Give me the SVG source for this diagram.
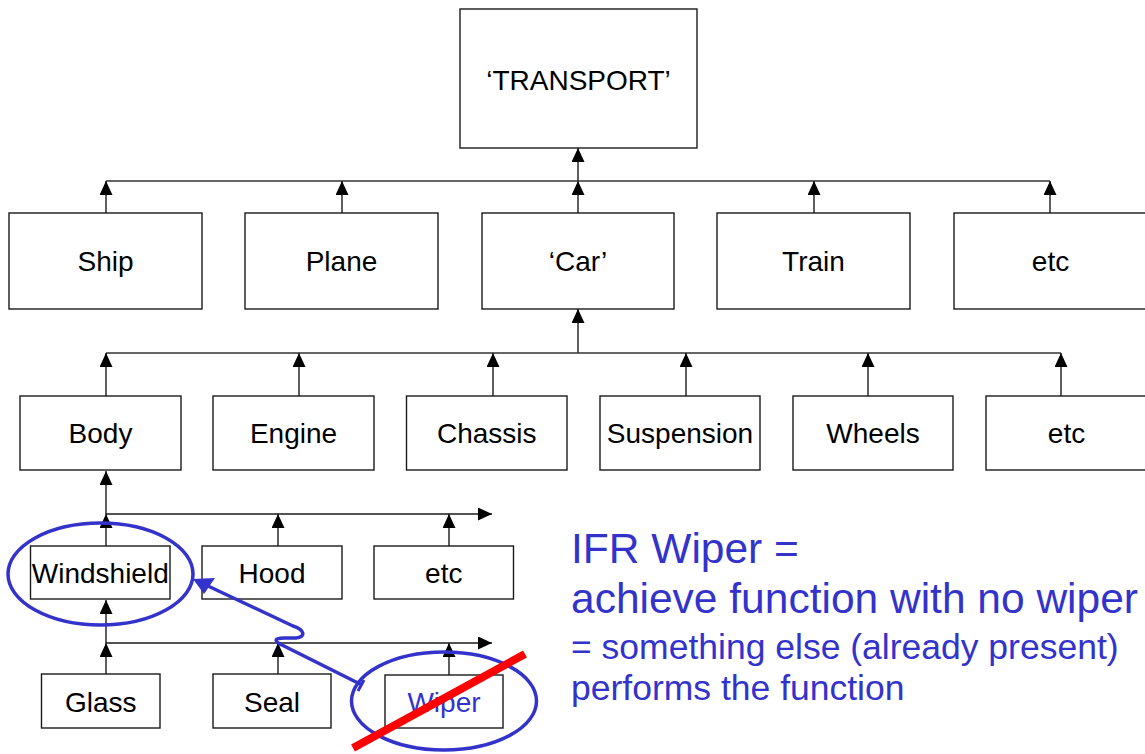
<svg xmlns="http://www.w3.org/2000/svg" width="1145" height="754" viewBox="0 0 1145 754">
  <defs>
    <style>
      .box { fill: #ffffff; stroke: #1a1a1a; stroke-width: 1.4; }
      .lbl { font-family: "Liberation Sans", Arial, sans-serif; font-size: 28px; fill: #000000; text-anchor: middle; }
      .wire { stroke: #1a1a1a; stroke-width: 1.4; fill: none; }
      .bus { stroke: #333333; stroke-width: 1.4; fill: none; }
      .note { font-family: "Liberation Sans", Arial, sans-serif; fill: #3333cc; }
      .ring { fill: none; stroke: #3333cc; stroke-width: 3.5; }
    </style>
    <marker id="head" viewBox="0 0 14 13" refX="14" refY="6.5" markerWidth="14" markerHeight="13" markerUnits="userSpaceOnUse" orient="auto">
      <path d="M0,0 L14,6.5 L0,13 z" fill="#000000"/>
    </marker>
  </defs>

  <rect width="1145" height="754" fill="#ffffff"/>

  <!-- hierarchy connectors -->
  <g id="connectors">
    <!-- Car up to TRANSPORT -->
    <line class="wire" x1="578" y1="213" x2="578" y2="181" marker-end="url(#head)"/>
    <line class="wire" x1="578" y1="181" x2="578" y2="148" marker-end="url(#head)"/>
    <line class="bus" x1="106" y1="181" x2="1050" y2="181"/>
    <line class="wire" x1="106" y1="213" x2="106" y2="181" marker-end="url(#head)"/>
    <line class="wire" x1="342" y1="213" x2="342" y2="181" marker-end="url(#head)"/>
    <line class="wire" x1="814" y1="213" x2="814" y2="181" marker-end="url(#head)"/>
    <line class="wire" x1="1050" y1="213" x2="1050" y2="181" marker-end="url(#head)"/>

    <!-- Car components -->
    <line class="wire" x1="578" y1="353" x2="578" y2="309" marker-end="url(#head)"/>
    <line class="bus" x1="106" y1="353" x2="1061" y2="353"/>
    <line class="wire" x1="106" y1="396" x2="106" y2="353" marker-end="url(#head)"/>
    <line class="wire" x1="299" y1="396" x2="299" y2="353" marker-end="url(#head)"/>
    <line class="wire" x1="493" y1="396" x2="493" y2="353" marker-end="url(#head)"/>
    <line class="wire" x1="686" y1="396" x2="686" y2="353" marker-end="url(#head)"/>
    <line class="wire" x1="868" y1="396" x2="868" y2="353" marker-end="url(#head)"/>
    <line class="wire" x1="1061" y1="396" x2="1061" y2="353" marker-end="url(#head)"/>

    <!-- Body components -->
    <line class="wire" x1="106" y1="514" x2="106" y2="471" marker-end="url(#head)"/>
    <line class="wire" x1="106" y1="514" x2="492" y2="514" marker-end="url(#head)"/>
    <line class="wire" x1="106" y1="546" x2="106" y2="514" marker-end="url(#head)"/>
    <line class="wire" x1="278" y1="546" x2="278" y2="514" marker-end="url(#head)"/>
    <line class="wire" x1="449" y1="546" x2="449" y2="514" marker-end="url(#head)"/>

    <!-- Windshield components -->
    <line class="wire" x1="106" y1="643" x2="106" y2="600" marker-end="url(#head)"/>
    <line class="wire" x1="106" y1="643" x2="492" y2="643" marker-end="url(#head)"/>
    <line class="wire" x1="106" y1="674" x2="106" y2="643" marker-end="url(#head)"/>
    <line class="wire" x1="278" y1="674" x2="278" y2="643" marker-end="url(#head)"/>
    <line class="wire" x1="449" y1="675" x2="449" y2="643" marker-end="url(#head)"/>
  </g>

  <!-- level 0 -->
  <g id="transport">
    <rect class="box" x="460" y="9" width="237" height="139"/>
    <text class="lbl" x="578.5" y="90">‘TRANSPORT’</text>
  </g>

  <!-- level 1 -->
  <g id="ship">
    <rect class="box" x="9" y="213" width="193" height="96"/>
    <text class="lbl" x="105.5" y="271">Ship</text>
  </g>
  <g id="plane">
    <rect class="box" x="245" y="213" width="193" height="96"/>
    <text class="lbl" x="341.5" y="271">Plane</text>
  </g>
  <g id="car">
    <rect class="box" x="482" y="213" width="192" height="96"/>
    <text class="lbl" x="578" y="271">‘Car’</text>
  </g>
  <g id="train">
    <rect class="box" x="717" y="213" width="193" height="96"/>
    <text class="lbl" x="813.5" y="271">Train</text>
  </g>
  <g id="etc-transport">
    <rect class="box" x="954" y="213" width="193" height="96"/>
    <text class="lbl" x="1050.5" y="271">etc</text>
  </g>

  <!-- level 2 -->
  <g id="body">
    <rect class="box" x="20" y="396" width="161" height="74"/>
    <text class="lbl" x="100.5" y="443">Body</text>
  </g>
  <g id="engine">
    <rect class="box" x="213" y="396" width="161" height="74"/>
    <text class="lbl" x="293.5" y="443">Engine</text>
  </g>
  <g id="chassis">
    <rect class="box" x="406.5" y="396" width="160.5" height="74"/>
    <text class="lbl" x="486.75" y="443">Chassis</text>
  </g>
  <g id="suspension">
    <rect class="box" x="600" y="396" width="160" height="74"/>
    <text class="lbl" x="680" y="443">Suspension</text>
  </g>
  <g id="wheels">
    <rect class="box" x="793" y="396" width="160" height="74"/>
    <text class="lbl" x="873" y="443">Wheels</text>
  </g>
  <g id="etc-car">
    <rect class="box" x="986" y="396" width="161" height="74"/>
    <text class="lbl" x="1066.5" y="443">etc</text>
  </g>

  <!-- level 3 -->
  <g id="windshield">
    <rect class="box" x="30.5" y="546" width="139.5" height="53"/>
    <text class="lbl" x="100.25" y="583">Windshield</text>
  </g>
  <g id="hood">
    <rect class="box" x="202" y="546" width="140" height="53"/>
    <text class="lbl" x="272" y="583">Hood</text>
  </g>
  <g id="etc-body">
    <rect class="box" x="374" y="546" width="139.5" height="53"/>
    <text class="lbl" x="443.75" y="583">etc</text>
  </g>

  <!-- level 4 -->
  <g id="glass">
    <rect class="box" x="41.5" y="674" width="118.5" height="54"/>
    <text class="lbl" x="100.75" y="712">Glass</text>
  </g>
  <g id="seal">
    <rect class="box" x="213" y="674" width="118" height="54"/>
    <text class="lbl" x="272" y="712">Seal</text>
  </g>
  <g id="wiper">
    <rect class="box" x="385" y="675" width="118" height="53"/>
    <text class="lbl" x="444" y="712" fill="#3333cc" style="fill:#3333cc">Wiper</text>
  </g>

  <!-- annotation: wiper function moved to windshield -->
  <g id="annotation">
    <ellipse class="ring" cx="100.5" cy="574" rx="92.5" ry="51"/>
    <ellipse class="ring" cx="444" cy="701" rx="92.5" ry="49"/>
    <path d="M362,685 L284,646 C273,641 274,638 284,638 L296,638 C306,637 305,630 293,626 L208,586" fill="none" stroke="#3333cc" stroke-width="3.5" stroke-linejoin="round"/>
    <line x1="358" y1="691" x2="364" y2="680" stroke="#3333cc" stroke-width="3"/>
    <polygon points="193,579 215,578 204,594" fill="#3333cc"/>
    <line x1="353" y1="748" x2="525" y2="654" stroke="#ff0000" stroke-width="8"/>
  </g>

  <g id="ifr-note" class="note">
    <text x="571" y="563" font-size="42.5">IFR Wiper =</text>
    <text x="571" y="613" font-size="42.5">achieve function with no wiper</text>
    <text x="571" y="659" font-size="35.5">= something else (already present)</text>
    <text x="571" y="700" font-size="35.5">performs the function</text>
  </g>
</svg>
